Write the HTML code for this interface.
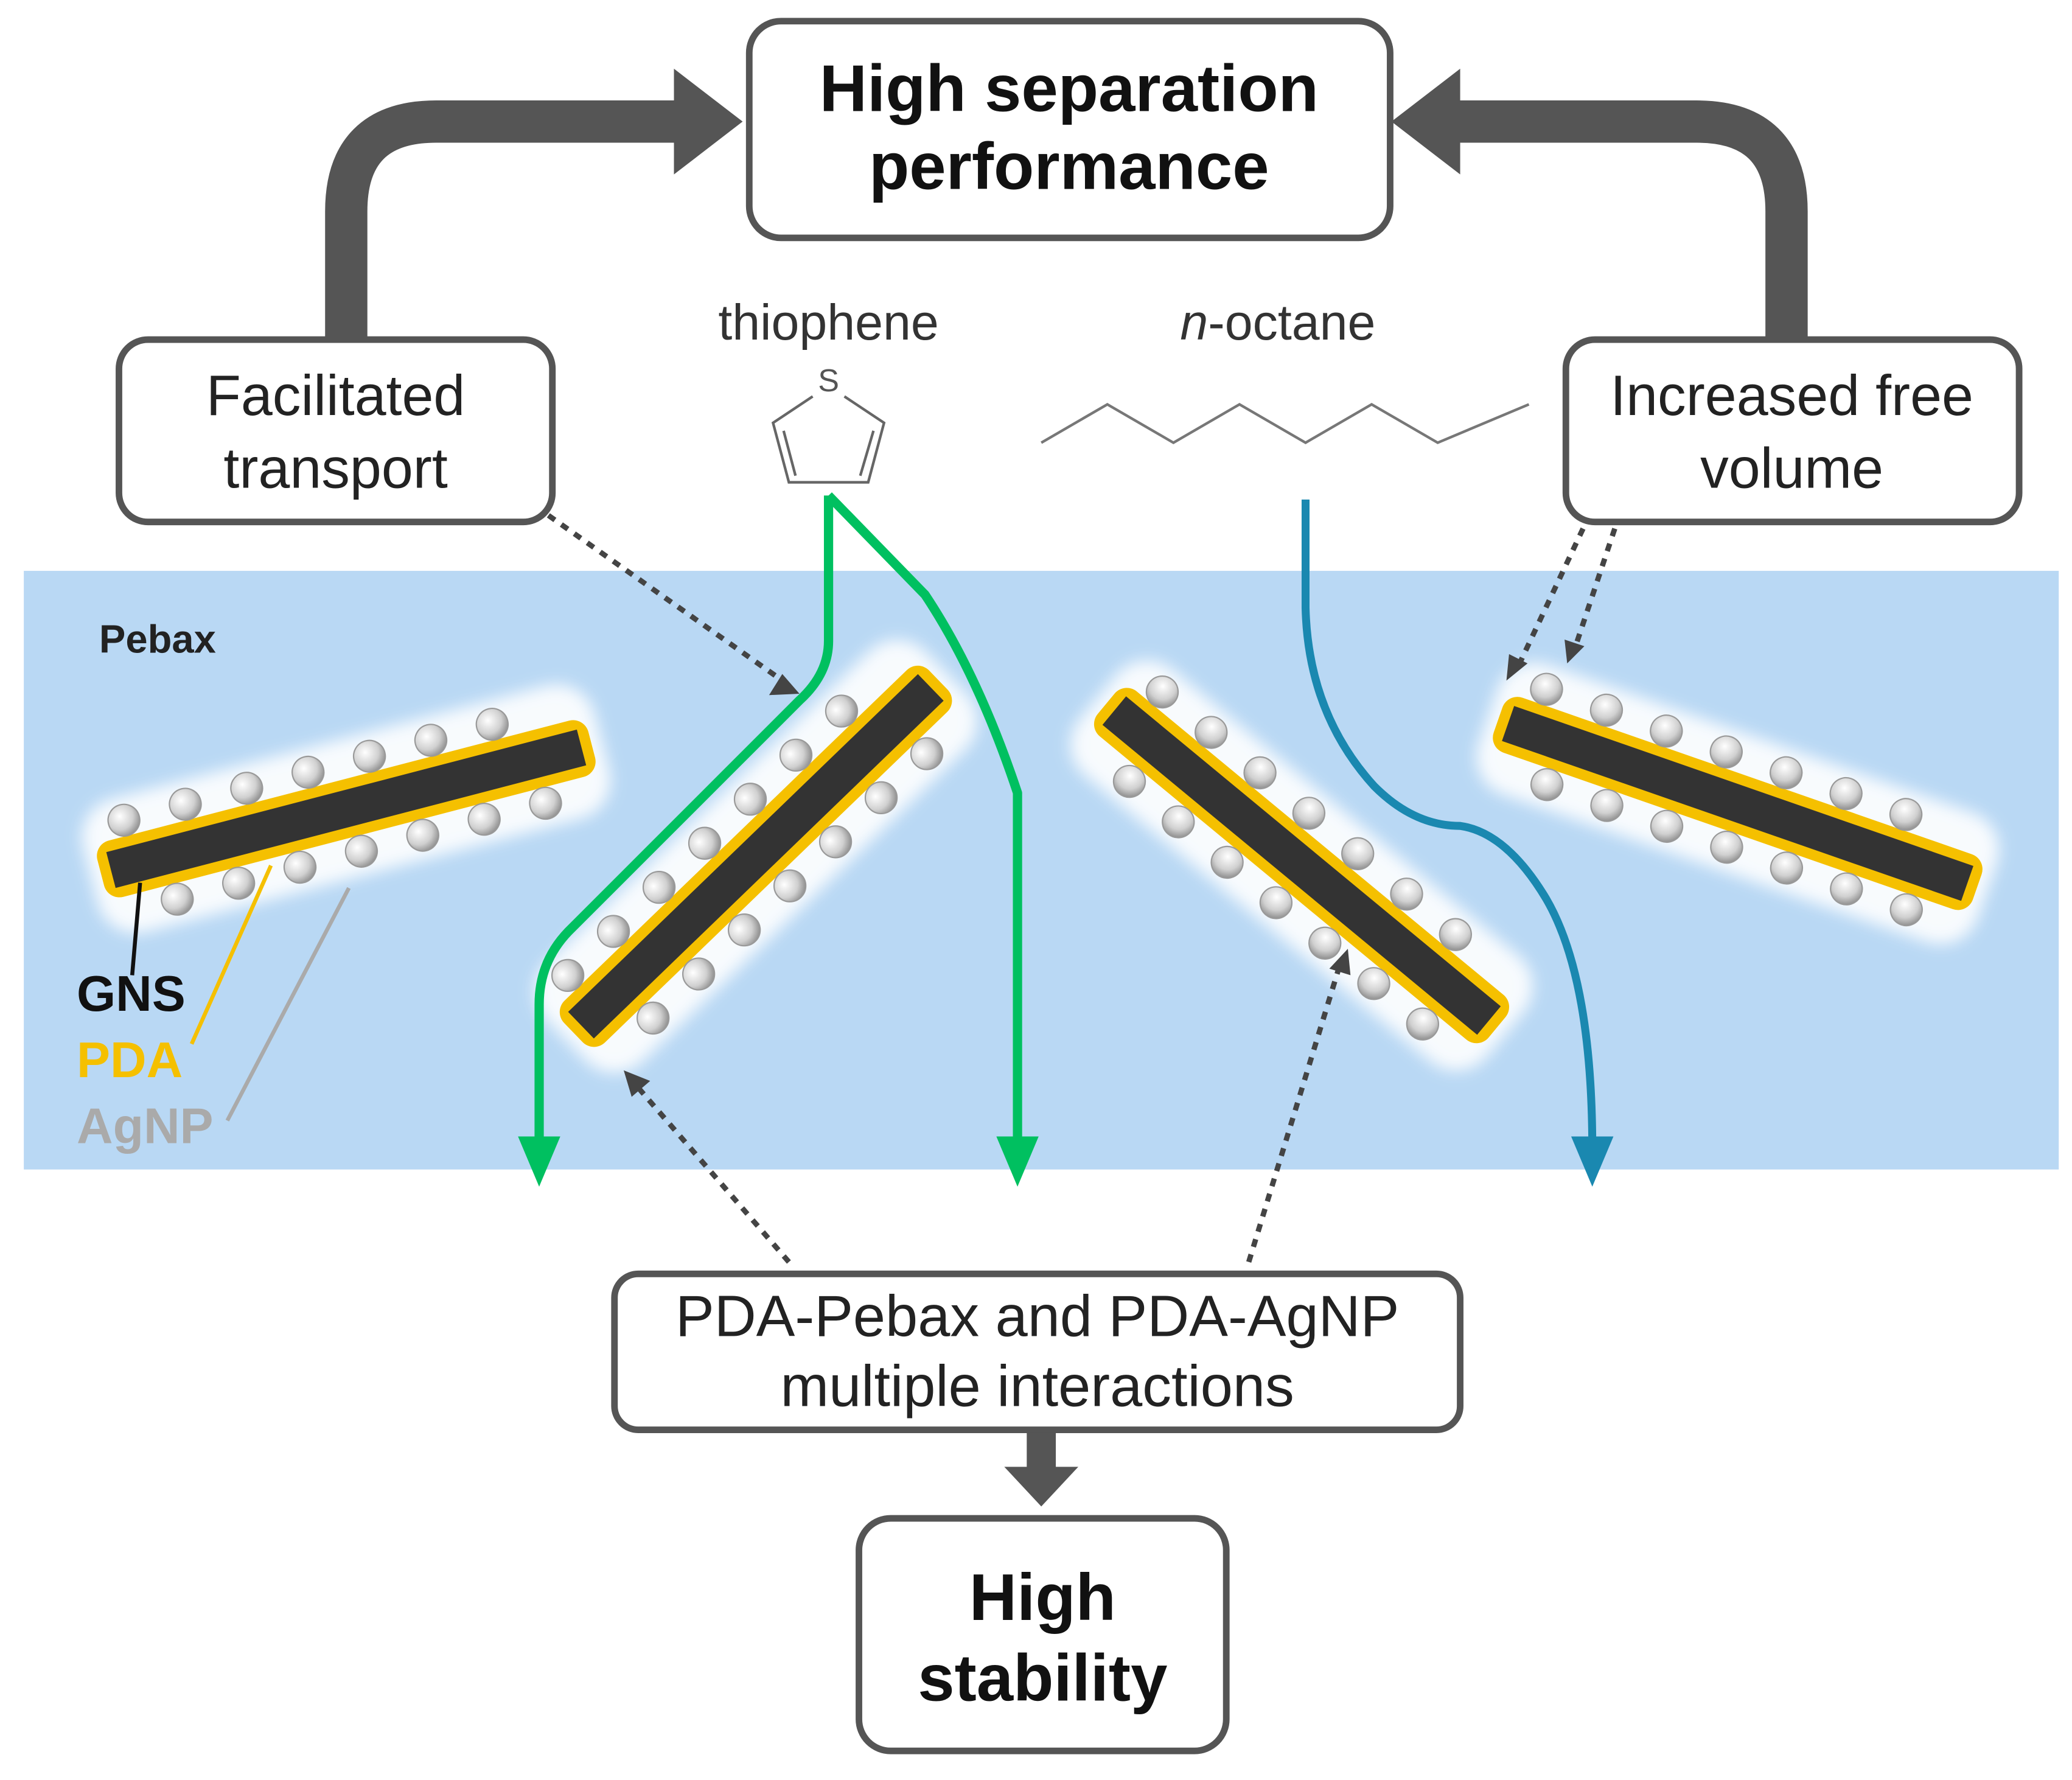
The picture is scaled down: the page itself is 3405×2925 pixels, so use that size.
<!DOCTYPE html>
<html><head><meta charset="utf-8"><style>
html,body{margin:0;padding:0;background:#fff;}
svg{display:block;}
text{font-family:"Liberation Sans",sans-serif;}
</style></head><body>
<svg width="3405" height="2925" viewBox="0 0 1568 1347" xmlns="http://www.w3.org/2000/svg">
<defs>
<radialGradient id="ball" cx="0.4" cy="0.35" r="0.7">
<stop offset="0" stop-color="#ffffff"/><stop offset="0.6" stop-color="#d0d0d0"/><stop offset="1" stop-color="#8a8a8a"/>
</radialGradient>
<filter id="glow" x="-20%" y="-50%" width="140%" height="200%"><feGaussianBlur stdDeviation="6"/></filter>
<g id="sheet">
<rect x="-200" y="-52" width="400" height="104" rx="30" fill="#fff" filter="url(#glow)" opacity="0.9"/>
<rect x="-192" y="-22" width="384" height="44" rx="12" fill="#f5c000"/>
<rect x="-184" y="-14" width="368" height="28" fill="#333"/>
<g fill="url(#ball)" stroke="#999" stroke-width="1">
<circle cx="-165" cy="-34" r="12"/><circle cx="-117" cy="-34" r="12"/><circle cx="-69" cy="-34" r="12"/><circle cx="-21" cy="-34" r="12"/><circle cx="27" cy="-34" r="12"/><circle cx="75" cy="-34" r="12"/><circle cx="123" cy="-34" r="12"/>
<circle cx="-141" cy="34" r="12"/><circle cx="-93" cy="34" r="12"/><circle cx="-45" cy="34" r="12"/><circle cx="3" cy="34" r="12"/><circle cx="51" cy="34" r="12"/><circle cx="99" cy="34" r="12"/><circle cx="147" cy="34" r="12"/>
</g>
</g>
</defs>
<rect width="1568" height="1347" fill="#fff"/>
<rect x="18" y="432" width="1540" height="453" fill="#b9d8f4"/>
<text x="75" y="494" font-size="30" font-weight="bold" fill="#222">Pebax</text>

<path d="M262 258 V160 Q262 92 330 92 H515" fill="none" stroke="#555" stroke-width="32"/>
<polygon points="510,52 562,92 510,132" fill="#555"/>
<path d="M1352 258 V160 Q1352 92 1284 92 H1100" fill="none" stroke="#555" stroke-width="32"/>
<polygon points="1105,52 1053,92 1105,132" fill="#555"/>

<rect x="567" y="16" width="485" height="164" rx="24" fill="#fff" stroke="#555" stroke-width="5"/>
<text x="809" y="84" font-size="50" font-weight="bold" text-anchor="middle" fill="#111">High separation</text>
<text x="809" y="143" font-size="50" font-weight="bold" text-anchor="middle" fill="#111">performance</text>
<rect x="90" y="257" width="328" height="138" rx="22" fill="#fff" stroke="#555" stroke-width="5"/>
<text x="254" y="314" font-size="43" text-anchor="middle" fill="#222">Facilitated</text>
<text x="254" y="369" font-size="43" text-anchor="middle" fill="#222">transport</text>
<rect x="1185" y="257" width="343" height="138" rx="22" fill="#fff" stroke="#555" stroke-width="5"/>
<text x="1356" y="314" font-size="43" text-anchor="middle" fill="#222">Increased free</text>
<text x="1356" y="369" font-size="43" text-anchor="middle" fill="#222">volume</text>

<text x="627" y="257" font-size="38" text-anchor="middle" fill="#333">thiophene</text>
<text x="627" y="296" font-size="24" text-anchor="middle" fill="#555">S</text>
<g fill="none" stroke="#666" stroke-width="2">
<path d="M615 300 L585 320 L597 365 H657 L669 320 L639 300"/>
<path d="M593 326 L602 360 M651 360 L661 326"/>
</g>
<text x="967" y="257" font-size="38" text-anchor="middle" fill="#333"><tspan font-style="italic">n</tspan>-octane</text>
<polyline points="788,335 838,306 888,335 938,306 988,335 1038,306 1088,335 1157,306" fill="none" stroke="#777" stroke-width="2"/>

<use href="#sheet" transform="translate(262,612) rotate(-14.6)"/>
<use href="#sheet" transform="translate(572,648) rotate(-44)"/>
<use href="#sheet" transform="translate(985,655) rotate(39.6)"/>
<use href="#sheet" transform="translate(1315,608) rotate(19.2)"/>

<text x="58" y="765" font-size="38" font-weight="bold" fill="#111">GNS</text>
<text x="58" y="815" font-size="38" font-weight="bold" fill="#f5c000">PDA</text>
<text x="58" y="865" font-size="38" font-weight="bold" fill="#aaa">AgNP</text>
<line x1="100" y1="738" x2="106" y2="668" stroke="#111" stroke-width="3"/>
<line x1="145" y1="790" x2="205" y2="655" stroke="#f5c000" stroke-width="3"/>
<line x1="172" y1="848" x2="264" y2="672" stroke="#aaa" stroke-width="3"/>

<g fill="none" stroke="#00c060" stroke-width="7" stroke-linejoin="round">
<path d="M627 375 V485 Q627 510 605 530 L430 705 Q408 728 408 760 V870"/>
<path d="M627 375 L700 450 Q740 510 770 600 V870"/>
</g>
<polygon points="392,860 424,860 408,898" fill="#00c060"/>
<polygon points="754,860 786,860 770,898" fill="#00c060"/>
<path d="M988 378 V460 Q990 540 1040 595 Q1070 625 1105 625 Q1140 630 1170 680 Q1205 740 1205 870" fill="none" stroke="#1a88b0" stroke-width="6"/>
<polygon points="1189,860 1221,860 1205,898" fill="#1a88b0"/>

<g stroke="#444" stroke-width="4" stroke-dasharray="6,6" fill="none">
<line x1="415" y1="390" x2="592" y2="515"/>
<line x1="1198" y1="400" x2="1150" y2="502"/>
<line x1="1222" y1="400" x2="1192" y2="490"/>
<line x1="597" y1="955" x2="482" y2="822"/>
<line x1="945" y1="955" x2="1014" y2="730"/>
</g>
<g fill="#444">
<polygon points="605,525 582,526 592,510"/>
<polygon points="1140,515 1142,495 1156,502"/>
<polygon points="1186,502 1184,484 1199,489"/>
<polygon points="472,810 492,818 478,830"/>
<polygon points="1020,718 1022,738 1006,733"/>
</g>

<rect x="465" y="964" width="640" height="118" rx="18" fill="#fff" stroke="#555" stroke-width="5"/>
<text x="785" y="1011" font-size="44" text-anchor="middle" fill="#222">PDA-Pebax and PDA-AgNP</text>
<text x="785" y="1064" font-size="44" text-anchor="middle" fill="#222">multiple interactions</text>
<rect x="777" y="1084" width="22" height="30" fill="#555"/>
<polygon points="760,1110 816,1110 788,1140" fill="#555"/>
<rect x="650" y="1149" width="278" height="176" rx="24" fill="#fff" stroke="#555" stroke-width="5"/>
<text x="789" y="1226" font-size="50" font-weight="bold" text-anchor="middle" fill="#111">High</text>
<text x="789" y="1287" font-size="50" font-weight="bold" text-anchor="middle" fill="#111">stability</text>
</svg>
</body></html>
